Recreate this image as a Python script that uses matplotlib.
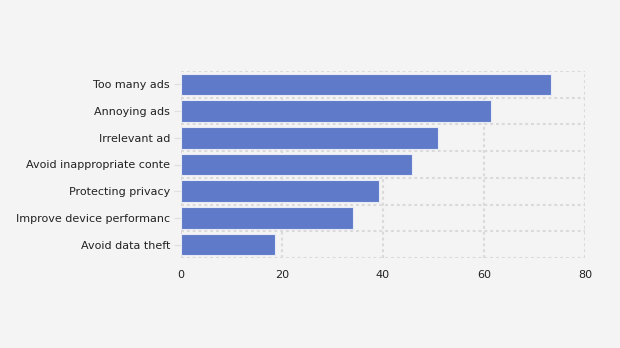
import matplotlib.pyplot as plt
import numpy as np

categories = ['Too many ads', 'Annoying ads', 'Irrelevant ad',
              'Avoid inappropriate conte', 'Protecting privacy',
              'Improve device performanc', 'Avoid data theft']
values = [73.3, 61.4, 50.9, 45.8, 39.3, 34.1, 18.6]
xticks = [0, 20, 40, 60, 80]

BG = '#f4f4f4'
BAR = '#5e7ac8'
GRID = '#dadada'

fig = plt.figure(figsize=(6.2, 3.48), dpi=100, facecolor=BG)
ax = fig.add_axes([181 / 620, 1 - 258 / 348, (585 - 181) / 620, (258 - 71) / 348])
ax.set_facecolor(BG)

y = np.arange(len(categories))[::-1]
ax.barh(y, values, height=0.81, color=BAR, edgecolor='#e8ebf6',
        linewidth=0.8, zorder=2)

ax.set_xlim(0, 80)
ax.set_ylim(-0.5, len(categories) - 0.5)
ax.set_xticks(xticks)
ax.set_yticks(y)
ax.set_yticklabels(categories)
ax.set_yticks(np.arange(-0.5, len(categories), 1.0), minor=True)

dash = (0, (1.4, 1.4))
ax.grid(True, which='major', axis='x', color=GRID, linestyle=dash, linewidth=1.5, zorder=1)
ax.grid(True, which='minor', axis='y', color=GRID, linestyle=dash, linewidth=1.5, zorder=1)
ax.set_axisbelow(True)
for s in ax.spines.values():
    s.set_visible(False)

ax.tick_params(axis='y', which='major', length=5, color='#e0e0e0', labelsize=8, labelcolor='#222222', pad=3)
ax.tick_params(axis='y', which='minor', length=0)
ax.tick_params(axis='x', length=0, labelsize=8, labelcolor='#222222', pad=9)

fig.savefig('out.png', dpi=100, facecolor=BG)
